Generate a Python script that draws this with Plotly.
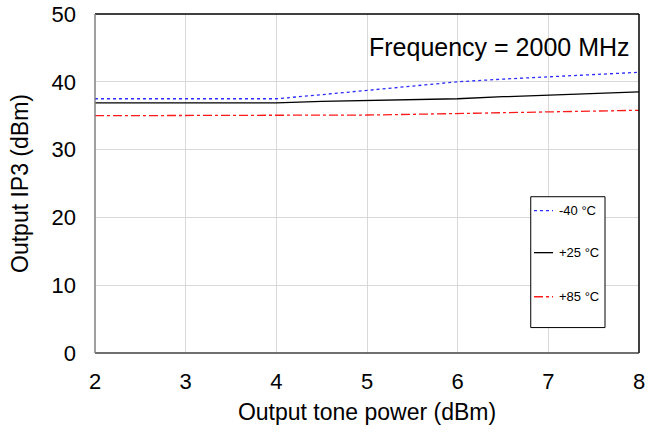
import plotly.graph_objects as go

power = [2, 2.5, 3, 3.5, 4, 4.5, 5, 5.5, 6, 6.5, 7, 7.5, 8]
ip3_m40 = [37.5, 37.5, 37.5, 37.5, 37.5, 38.1, 38.7, 39.4, 40.0, 40.4, 40.7, 41.1, 41.4]
ip3_p25 = [36.9, 36.9, 36.9, 36.9, 36.9, 37.1, 37.2, 37.4, 37.5, 37.8, 38.0, 38.2, 38.5]
ip3_p85 = [35.0, 35.0, 35.0, 35.0, 35.0, 35.0, 35.1, 35.2, 35.3, 35.4, 35.5, 35.6, 35.8]
names = ["-40 °C", "+25 °C", "+85 °C"]
colors = ["#2b2bff", "#000000", "#ff1a1a"]
dashes = ["dot", "solid", "dashdot"]
x_ticks = [2, 3, 4, 5, 6, 7, 8]
y_ticks = [0, 10, 20, 30, 40, 50]

FONT = "Liberation Sans, Arial, sans-serif"

fig = go.Figure()
for ys, nm, c, d in zip([ip3_m40, ip3_p25, ip3_p85], names, colors, dashes):
    fig.add_trace(go.Scatter(x=power, y=ys, mode="lines", name=nm,
                             line=dict(color=c, dash=d, width=1.3),
                             showlegend=False))

fig.update_layout(
    width=648, height=433,
    margin=dict(l=95, r=9, t=14, b=80),
    paper_bgcolor="white", plot_bgcolor="white",
    font=dict(family=FONT, color="black", size=22),
    xaxis=dict(range=[2, 8], tickvals=x_ticks, showgrid=True, gridcolor="#d9d9d9",
               gridwidth=1, zeroline=False, showline=False, automargin=False,
               ticks="", ticklabelstandoff=13, tickfont=dict(size=22),
               title=dict(text="Output tone power (dBm)", font=dict(size=23), standoff=10)),
    yaxis=dict(range=[0, 50], tickvals=y_ticks, showgrid=True, gridcolor="#d9d9d9",
               gridwidth=1, zeroline=False, showline=False, automargin=False,
               ticks="", ticklabelstandoff=18, tickfont=dict(size=22),
               title=dict(text="Output IP3 (dBm)", font=dict(size=23), standoff=16)),
)

# plot frame
fig.add_shape(type="line", xref="paper", yref="paper", x0=0, x1=1, y0=1, y1=1,
              line=dict(color="black", width=1.5))
fig.add_shape(type="line", xref="paper", yref="paper", x0=1, x1=1, y0=0, y1=1,
              line=dict(color="black", width=1.5))
fig.add_shape(type="line", xref="paper", yref="paper", x0=0, x1=1, y0=0, y1=0,
              line=dict(color="#404040", width=1.5))
fig.add_shape(type="line", xref="paper", yref="paper", x0=0, x1=0, y0=0, y1=1,
              line=dict(color="#808080", width=1.5))

# annotation
fig.add_annotation(text="Frequency = 2000 MHz", xref="paper", yref="paper",
                   x=0.743, y=0.903, showarrow=False, font=dict(size=25),
                   xanchor="center", yanchor="middle")

# manual legend
fig.add_shape(type="rect", xref="paper", yref="paper", x0=0.801, x1=0.9375,
              y0=0.075, y1=0.461, line=dict(color="black", width=1),
              fillcolor="white")
leg_y = [0.4197, 0.296, 0.166]
for nm, c, d, yy in zip(names, colors, dashes, leg_y):
    fig.add_shape(type="line", xref="paper", yref="paper", x0=0.807, x1=0.842,
                  y0=yy, y1=yy, line=dict(color=c, dash=d, width=1.3))
    fig.add_annotation(text=nm, xref="paper", yref="paper", x=0.849, y=yy,
                       showarrow=False, xanchor="left", yanchor="middle",
                       font=dict(size=13))

post = """
var h=document.documentElement, b=document.body;
h.style.margin='0'; h.style.padding='0'; h.style.overflow='hidden';
b.style.margin='0'; b.style.padding='0'; b.style.overflow='hidden';
"""

fig.write_html("out.html",
               config={"displayModeBar": False, "responsive": False},
               post_script=post)
